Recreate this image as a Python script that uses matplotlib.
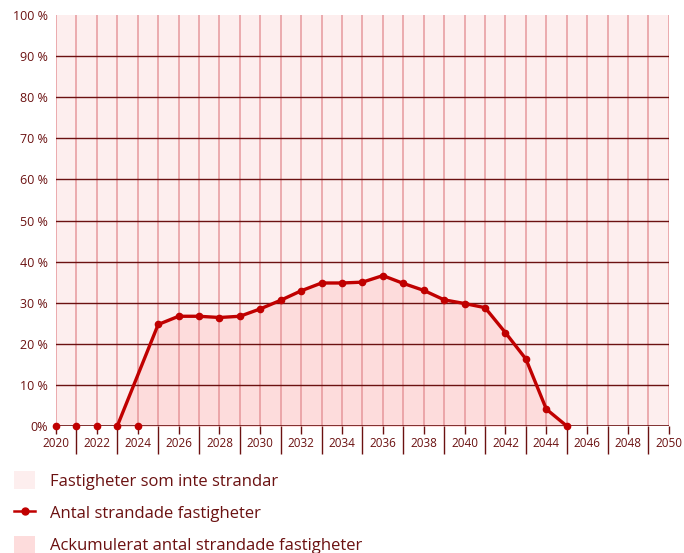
import matplotlib.pyplot as plt
from matplotlib.patches import Patch
from matplotlib.lines import Line2D
from matplotlib.ticker import MultipleLocator, FuncFormatter

plt.rcParams["font.family"] = ["Open Sans", "DejaVu Sans"]

# -----------------------------------------------------------
# Data (share of properties, %)
# -----------------------------------------------------------
years = list(range(2023, 2046))
stranded = [0, 12.3, 24.7, 26.7, 26.7, 26.4, 26.7, 28.5, 30.6, 32.9, 34.8, 34.8,
            35.0, 36.6, 34.7, 33.0, 30.7, 29.8, 28.8, 22.7, 16.3, 4.1, 0]
zero_years = [2020, 2021, 2022, 2024]
zero_vals = [0, 0, 0, 0]

labels = ["Fastigheter som inte strandar",
          "Antal strandade fastigheter",
          "Ackumulerat antal strandade fastigheter"]

dark = "#6b1111"
red = "#c00000"
bg = "#fdeeee"
fill = "#fddcdc"
grid = "#e28a8f"

# -----------------------------------------------------------
# Figure
# -----------------------------------------------------------
fig = plt.figure(figsize=(6.84, 5.53), dpi=100)
ax = fig.add_axes([0.0819, 0.2297, 0.896, 0.743])

ax.axvspan(2020, 2050, color=bg, zorder=0)
ax.fill_between(years, stranded, 0, color=fill, zorder=1)

for yr in range(2020, 2051):
    ax.axvline(yr, color=grid, lw=1.1, alpha=0.85, zorder=2)
for v in range(10, 100, 10):
    ax.axhline(v, color=dark, lw=1.0, zorder=3)
ax.axhline(0, color=dark, lw=1.2, zorder=3)

# line skips 2024 marker; drawn as in the source
plot_years = [y for y in years if y != 2024]
plot_vals = [v for y, v in zip(years, stranded) if y != 2024]
ax.plot(plot_years, plot_vals, color=red, lw=2.4, marker="o", ms=4.5, zorder=5,
        clip_on=False)
ax.plot(zero_years, zero_vals, ls="none", color=red, marker="o", ms=4.5,
        zorder=5, clip_on=False)

ax.set_xlim(2020, 2050)
ax.set_ylim(0, 100)

ax.xaxis.set_major_locator(MultipleLocator(2))
ax.xaxis.set_minor_locator(MultipleLocator(1))
ax.tick_params(axis="x", which="major", length=6, width=1, color=dark,
               labelcolor=dark, labelsize=8.5, pad=2)
ax.tick_params(axis="x", which="minor", length=20, width=1, color=dark)
ax.yaxis.set_major_locator(MultipleLocator(10))
ax.yaxis.set_major_formatter(FuncFormatter(
    lambda v, p: "0%" if v == 0 else f"{int(v)} %"))
ax.tick_params(axis="y", length=0, labelcolor=dark, labelsize=9, pad=6)

for s in ax.spines.values():
    s.set_visible(False)

handles = [
    Patch(facecolor=bg, edgecolor="none"),
    Line2D([], [], color=red, lw=1.8, marker="o", ms=5),
    Patch(facecolor=fill, edgecolor="none"),
]
fig.legend(handles, labels, loc="upper left", bbox_to_anchor=(0.02, 0.148),
           frameon=False, fontsize=12, labelcolor=dark, handlelength=1.3,
           handleheight=1.3, labelspacing=0.82, handletextpad=0.85,
           borderaxespad=0, borderpad=0)

fig.savefig("out.png", dpi=100, facecolor="white")
